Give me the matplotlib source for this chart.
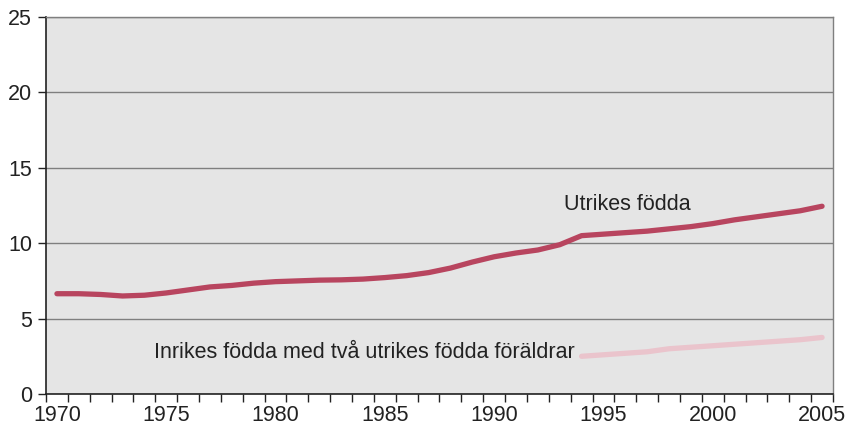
import matplotlib
matplotlib.use("Agg")
import matplotlib.pyplot as plt
import numpy as np

plt.rcParams['font.family'] = ['Liberation Sans', 'DejaVu Sans']

years = list(range(1970, 2006))
utrikes = [6.65, 6.65, 6.6, 6.5, 6.55, 6.7, 6.9, 7.1, 7.2, 7.35, 7.45, 7.5, 7.55, 7.57, 7.62,
           7.72, 7.85, 8.05, 8.35, 8.75, 9.1, 9.35, 9.55, 9.9, 10.5, 10.6, 10.7, 10.8, 10.95,
           11.1, 11.3, 11.55, 11.75, 11.95, 12.15, 12.45]
inrikes_years = list(range(1994, 2006))
inrikes = [2.5, 2.6, 2.7, 2.8, 3.0, 3.1, 3.2, 3.3, 3.4, 3.5, 3.6, 3.75]
yticks = [0, 5, 10, 15, 20, 25]
xlabels = ['1970', '1975', '1980', '1985', '1990', '1995', '2000', '2005']

FS = 15.5

fig = plt.figure(figsize=(8.57, 4.33), dpi=100)
ax = fig.add_axes([46/857, 1-394/433, (833-46)/857, (394-17)/433])
ax.set_facecolor('#E5E5E5')

xi = np.arange(len(years))
ax.plot(xi, utrikes, color='#B8455F', lw=3.8, solid_capstyle='round', solid_joinstyle='round', zorder=3)
ii = np.array([years.index(y) for y in inrikes_years])
ax.plot(ii, inrikes, color='#EAC4CC', lw=3.8, solid_capstyle='round', solid_joinstyle='round', zorder=3)

ax.set_xlim(-0.5, len(years) - 0.5)
ax.set_ylim(0, 25)
ax.set_yticks(yticks)
ax.set_yticklabels([str(v) for v in yticks], fontsize=FS, color='#222222')
ax.yaxis.grid(True, color='#7F7F7F', lw=1.0, zorder=1)
ax.set_axisbelow(True)

ax.set_xticks(np.arange(-0.5, len(years), 1.0))
ax.set_xticklabels([])
ax.set_xticks([years.index(int(l)) for l in xlabels], minor=True)
ax.set_xticklabels(xlabels, minor=True, fontsize=FS, color='#222222')
ax.tick_params(axis='x', which='major', length=6, width=1, color='#222222', direction='out')
ax.tick_params(axis='x', which='minor', length=0, pad=8)
ax.tick_params(axis='y', length=6, width=1, color='#222222', pad=4)

for s in ['left', 'bottom']:
    ax.spines[s].set_color('#222222')
    ax.spines[s].set_linewidth(1.2)
for s in ['right', 'top']:
    ax.spines[s].set_color('#7F7F7F')
    ax.spines[s].set_linewidth(1.0)

ax.text(23.2, 12.55, 'Utrikes födda', fontsize=FS, color='#222222', ha='left', va='center')
ax.text(23.7, 2.75, 'Inrikes födda med två utrikes födda föräldrar', fontsize=FS,
        color='#222222', ha='right', va='center')

fig.savefig('out.png', dpi=100)
